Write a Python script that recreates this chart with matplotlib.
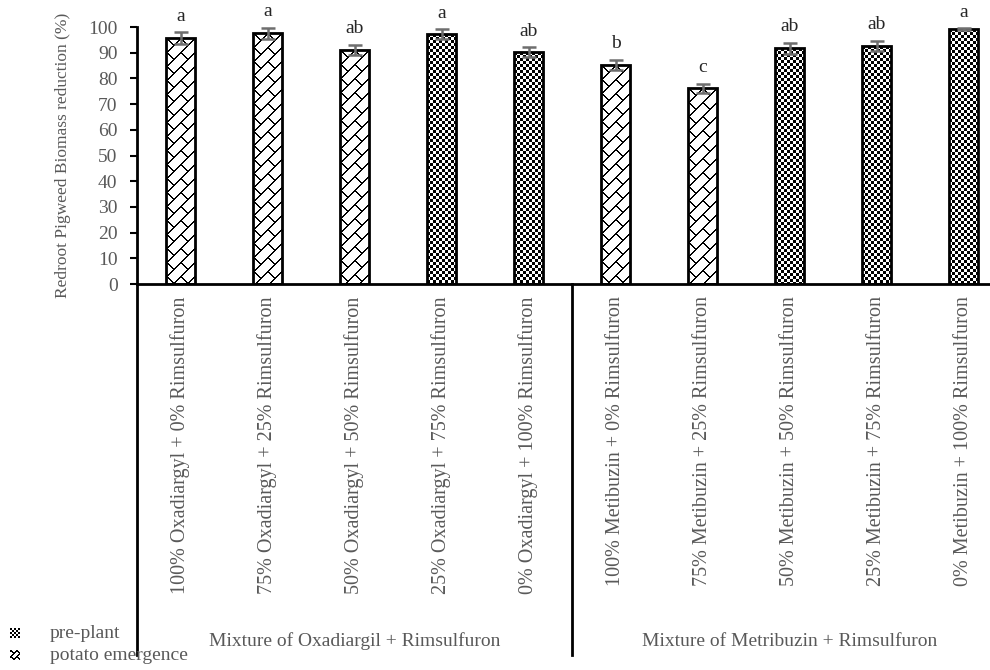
import numpy as np
import matplotlib
matplotlib.use("Agg")
from matplotlib import pyplot as plt
from matplotlib.transforms import blended_transform_factory

plt.rcParams["font.family"] = ["Liberation Serif", "DejaVu Serif"]

treatments = [
    "100% Oxadiargyl + 0% Rimsulfuron",
    "75% Oxadiargyl + 25% Rimsulfuron",
    "50% Oxadiargyl + 50% Rimsulfuron",
    "25% Oxadiargyl + 75% Rimsulfuron",
    "0% Oxadiargyl + 100% Rimsulfuron",
    "100% Metibuzin + 0% Rimsulfuron",
    "75% Metibuzin + 25% Rimsulfuron",
    "50% Metibuzin + 50% Rimsulfuron",
    "25% Metibuzin + 75% Rimsulfuron",
    "0% Metibuzin + 100% Rimsulfuron",
]
reduction = [95.6, 97.5, 91.0, 97.2, 90.2, 85.2, 76.1, 91.7, 92.6, 99.1]
std_err = [2.3, 2.2, 2.0, 1.9, 1.9, 1.9, 1.9, 2.1, 2.1, 0.4]
letters = ["a", "a", "ab", "a", "ab", "b", "c", "ab", "ab", "a"]
timing = ["potato emergence", "potato emergence", "potato emergence", "pre-plant", "pre-plant",
          "potato emergence", "potato emergence", "pre-plant", "pre-plant", "pre-plant"]
groups = ["Mixture of Oxadiargil + Rimsulfuron", "Mixture of Metribuzin + Rimsulfuron"]
group_size = 5

GRAY = "#595959"


def checker(h, w, cell=3):
    i, j = np.indices((h, w))
    return ((i // cell + j // cell) % 2).astype(float)


def weave(h, w, step=14):
    # solid "/" lines joined by short staggered "\" strokes
    i, j = np.indices((h, w))
    a = (i + j) % step
    b = (j - i) % step
    band = ((i + j) // step + (j - i) // step) % 2
    dark = (a < 2) | ((b < 1.5) & (band == 0))
    return np.where(dark, 0.0, 1.0)


patterns = {"pre-plant": checker, "potato emergence": weave}

fig = plt.figure(figsize=(9.9, 6.7), dpi=100)
ax = fig.add_axes([137 / 990, 386 / 670, 870 / 990, 257 / 670])

x = np.arange(len(treatments))
bars = ax.bar(x, reduction, width=0.33, fill=False, edgecolor="black", linewidth=2, zorder=3)
ax.set_xlim(-0.5, len(treatments) - 0.5)
ax.set_ylim(0, 100)

# textures clipped to each bar
for bar, t in zip(bars, timing):
    x0, y0, bw, bh = bar.get_x(), bar.get_y(), bar.get_width(), bar.get_height()
    (px0, py0), (px1, py1) = ax.transData.transform([(x0, y0), (x0 + bw, y0 + bh)])
    tex = patterns[t](int(round(py1 - py0)), int(round(px1 - px0)))
    im = ax.imshow(tex, cmap="gray", vmin=0, vmax=1, extent=(x0, x0 + bw, y0, y0 + bh),
                   interpolation="nearest", aspect="auto", zorder=2)
    im.set_clip_path(bar)
ax.set_xlim(-0.5, len(treatments) - 0.5)
ax.set_ylim(0, 100)

ax.errorbar(x, reduction, yerr=std_err, fmt="none", ecolor="#6e6e6e", elinewidth=1.8,
            capsize=5, capthick=1.8, zorder=4)
for xi, v, e, lab in zip(x, reduction, std_err, letters):
    ax.text(xi, v + e + 3, lab, ha="center", va="bottom", fontsize=14, color="#262626")

for side in ["top", "right"]:
    ax.spines[side].set_visible(False)
ax.spines["left"].set_linewidth(2)
ax.spines["bottom"].set_linewidth(2)

ax.set_yticks(range(0, 101, 10))
ax.tick_params(axis="y", direction="out", length=5, width=1.5, pad=9, labelsize=14, labelcolor=GRAY)
ax.set_xticks(x)
ax.set_xticklabels(treatments, rotation=90, fontsize=14.5, color=GRAY)
ax.tick_params(axis="x", length=0, pad=9)

ax.set_ylabel("Redroot Pigweed Biomass reduction (%)", fontsize=12.5, color=GRAY)
ax.yaxis.set_label_coords(-0.076, 0.5)

# category area lines and group labels
trans = blended_transform_factory(ax.transData, ax.transAxes)
ax.plot([0, 0], [0, -1.444], transform=ax.transAxes, color="black", lw=2, clip_on=False)
ax.plot([group_size - 0.5] * 2, [0, -1.444], transform=trans, color="black", lw=2, clip_on=False)
for k, g in enumerate(groups):
    ax.text(k * group_size + (group_size - 1) / 2, -1.39, g, transform=trans, ha="center",
            va="center", fontsize=14, color=GRAY)

# legend
for k, t in enumerate(["pre-plant", "potato emergence"]):
    ytop = 628 + k * 22
    lax = fig.add_axes([10 / 990, 1 - (ytop + 10) / 670, 10 / 990, 10 / 670])
    lax.imshow(patterns[t](10, 10, 2) if t == "pre-plant" else patterns[t](10, 10, 6),
               cmap="gray", vmin=0, vmax=1, interpolation="nearest", aspect="auto")
    lax.axis("off")
    fig.text(50 / 990, 1 - (ytop + 5) / 670, t, ha="left", va="center", fontsize=14, color=GRAY)

fig.savefig("out.png", dpi=100)
